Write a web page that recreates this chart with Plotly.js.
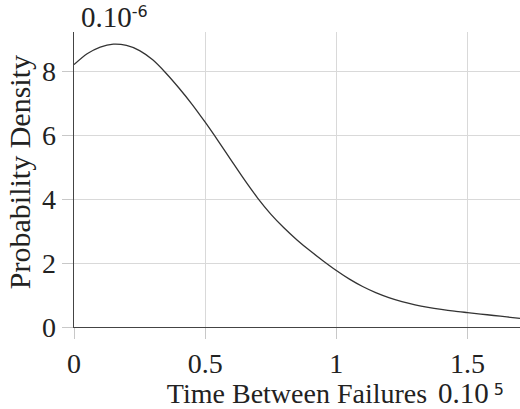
<!DOCTYPE html>
<html>
<head>
<meta charset="utf-8">
<script src="https://cdn.plot.ly/plotly-3.0.1.min.js"></script>
<style>
html,body{margin:0;padding:0;background:#fff;}
#chart{width:520px;height:409px;}
</style>
</head>
<body>
<div id="chart"></div>
<script>
// Time between failures (units of 1e5) and probability density (units of 1e-6)
var timeValues = [0, 0.05, 0.1, 0.15, 0.2, 0.25, 0.3, 0.35, 0.4, 0.45, 0.5, 0.55, 0.6, 0.65, 0.7, 0.75, 0.8, 0.85, 0.9, 0.95, 1.0, 1.05, 1.1, 1.15, 1.2, 1.25, 1.3, 1.35, 1.4, 1.45, 1.5, 1.55, 1.6, 1.65, 1.7];
var densityValues = [8.20, 8.54, 8.75, 8.84, 8.80, 8.64, 8.35, 7.94, 7.47, 6.96, 6.40, 5.81, 5.20, 4.595, 4.03, 3.53, 3.10, 2.72, 2.38, 2.065, 1.765, 1.495, 1.265, 1.075, 0.92, 0.795, 0.695, 0.615, 0.55, 0.495, 0.45, 0.405, 0.36, 0.315, 0.27];
var xTickVals = [0, 0.5, 1, 1.5];
var xTickText = ['0', '0.5', '1', '1.5'];
var yTickVals = [0, 2, 4, 6, 8];
var yTickText = ['0', '2', '4', '6', '8'];
var xTitle = 'Time Between Failures';
var yTitle = 'Probability Density';
var yScaleLabel = '0.10<span style="font-family:DejaVu Sans;font-size:16px;baseline-shift:10px">-6</span>';
var xScaleLabel = '0.10<span style="font-family:DejaVu Sans;font-size:16px;baseline-shift:8px"> 5</span>';

var serif = '"Liberation Serif", "DejaVu Serif", serif';

var trace = {
  x: timeValues,
  y: densityValues,
  type: 'scatter',
  mode: 'lines',
  line: {color: '#333333', width: 1.3, shape: 'spline', smoothing: 0.8},
  hoverinfo: 'skip'
};

var layout = {
  width: 520,
  height: 409,
  margin: {l: 74, r: 0, t: 32, b: 82, pad: 0},
  paper_bgcolor: '#ffffff',
  plot_bgcolor: '#ffffff',
  showlegend: false,
  font: {family: serif, size: 28, color: '#222222'},
  xaxis: {
    range: [0, 1.7],
    tickvals: xTickVals,
    ticktext: xTickText,
    showgrid: true,
    gridcolor: '#d9d9d9',
    gridwidth: 1,
    zeroline: false,
    showline: true,
    linecolor: '#444444',
    linewidth: 1.3,
    ticks: 'outside',
    ticklen: 11,
    tickcolor: '#c8c8c8',
    tickwidth: 1,
    tickfont: {family: serif, size: 28, color: '#222222'},
    title: {text: xTitle, font: {family: serif, size: 28, color: '#222222'}, standoff: 11},
    automargin: false,
    fixedrange: true
  },
  yaxis: {
    range: [0, 9.22],
    tickvals: yTickVals,
    ticktext: yTickText,
    showgrid: true,
    gridcolor: '#d9d9d9',
    gridwidth: 1,
    zeroline: false,
    showline: true,
    linecolor: '#444444',
    linewidth: 1.3,
    ticks: 'outside',
    ticklen: 11,
    tickcolor: '#c8c8c8',
    tickwidth: 1,
    tickfont: {family: serif, size: 28, color: '#222222'},
    automargin: false,
    fixedrange: true
  },
  annotations: [
    {xref: 'paper', yref: 'paper', x: -0.1233, y: 0.525, xanchor: 'center', yanchor: 'middle', textangle: -90,
     borderpad: 0, text: yTitle, showarrow: false, font: {family: serif, size: 30, color: '#222222'}},
    {xref: 'paper', yref: 'paper', x: 0.012, y: 1.052, xanchor: 'left', yanchor: 'middle',
     text: yScaleLabel, showarrow: false, font: {family: serif, size: 29, color: '#222222'}},
    {xref: 'paper', yref: 'paper', x: 0.812, y: -0.2847, xanchor: 'left', yanchor: 'bottom',
     text: xScaleLabel, showarrow: false, font: {family: serif, size: 29, color: '#222222'}}
  ]
};

Plotly.newPlot('chart', [trace], layout, {displayModeBar: false, staticPlot: true});
</script>
</body>
</html>
